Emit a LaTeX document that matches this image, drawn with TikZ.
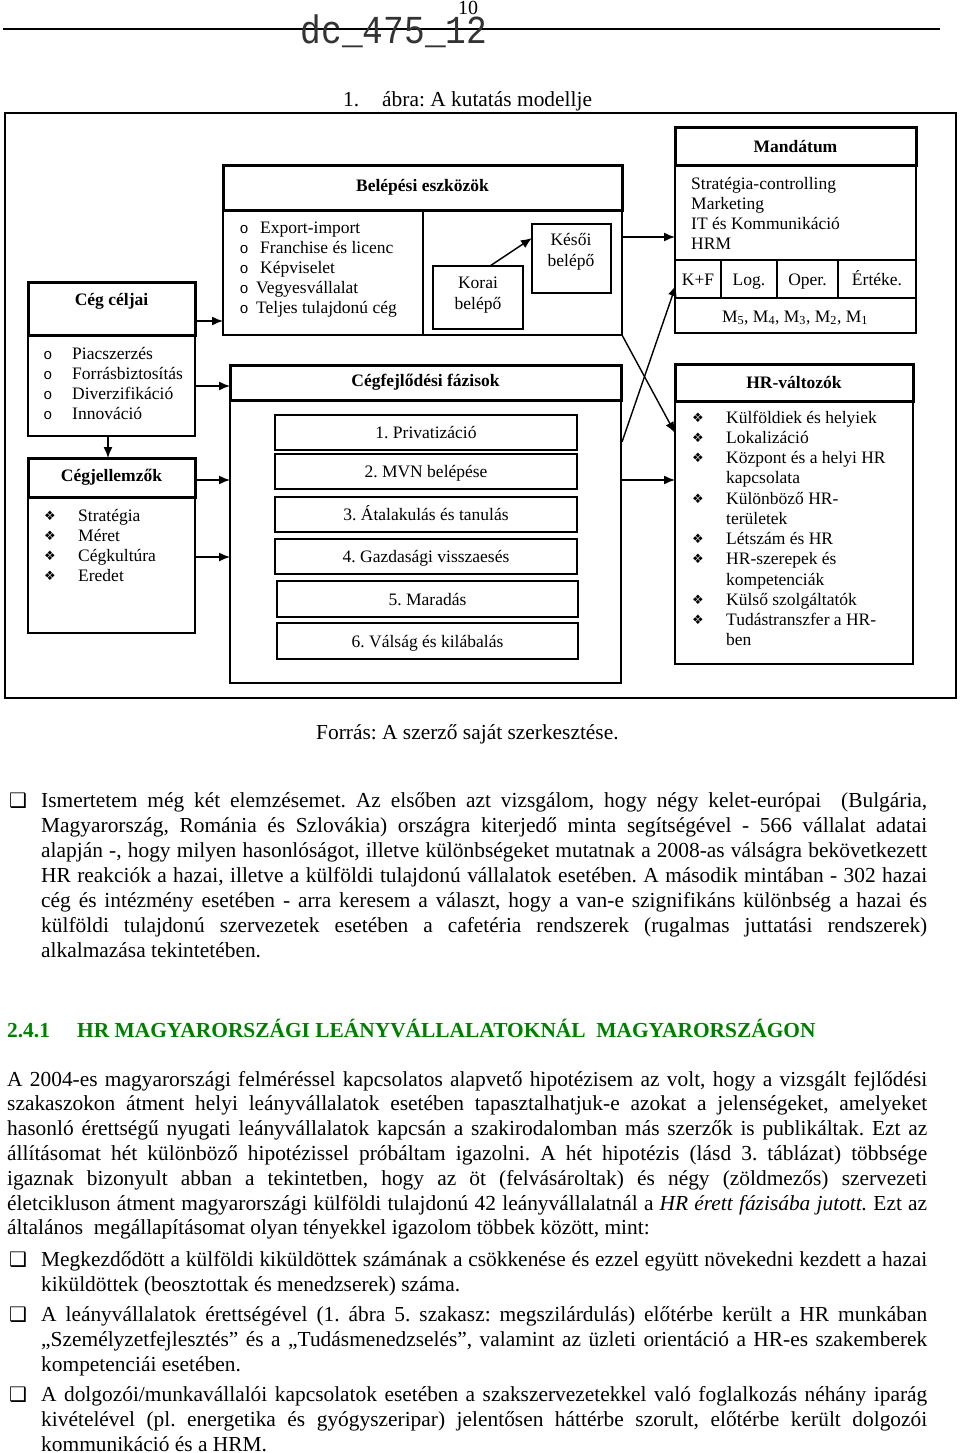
\documentclass[tikz,border=0pt]{standalone}
\usepackage{fontspec}
\setmainfont{Liberation Serif}
\newfontfamily\monof{Liberation Mono}
\newfontfamily\symf{DejaVu Sans}
\usetikzlibrary{fit,arrows.meta}
\definecolor{hgreen}{RGB}{0,128,0}
\newcommand{\jl}[2]{\makebox[#1][s]{#2}}
\frenchspacing
\tikzset{
  thinbx/.style={draw, line width=1.4pt, inner sep=0pt, outer sep=0pt},
  thickbx/.style={draw, line width=3pt, inner sep=0pt, outer sep=0pt},
  dtxt/.style={inner sep=0pt, font=\fontsize{17.5}{21}\selectfont},
  dbold/.style={inner sep=0pt, font=\fontsize{17.5}{21}\selectfont\bfseries},
  obul/.style={inner sep=0pt, anchor=base, font=\monof\fontsize{15}{15}\selectfont},
  dbul/.style={inner sep=0pt, anchor=base, font=\symf\fontsize{13}{13}\selectfont},
  qbul/.style={inner sep=0pt, anchor=base, font=\symf\fontsize{20}{20}\selectfont},
  arr/.style={-{Latex[length=11pt,width=9pt]}, line width=1.4pt},
  bodyt/.style={inner sep=0pt, anchor=base west, font=\fontsize{21.4}{25}\selectfont},
}
\begin{document}
\begin{tikzpicture}[x=1pt,y=-1pt]
\useasboundingbox (0,0) rectangle (960,1453);
\fill[white] (0,0) rectangle (960,1453);

% page header
\coordinate (hl1) at (3,29);
\coordinate (hl2) at (940,29);
\draw[line width=1.3pt] (hl1) -- (hl2);
\node[inner sep=0pt, anchor=base, font=\fontsize{20}{20}\selectfont] (pgnum) at (468,15) {10};
\node[inner sep=0pt, anchor=base, text=black!80, font=\monof\fontsize{34.5}{34.5}\selectfont] (dcid) at (394,44) {\scalebox{1}[1.15]{dc\_475\_12}};

% caption
\node[bodyt] (capn) at (343,107) {1.};
\node[bodyt] (capt) at (382,107) {ábra: A kutatás modellje};

% outer frame
\node[thinbx, fit={(5,113) (956,698)}] (frame) {};

% Belepesi eszkozok
\node[thinbx, fit={(223,210) (622,335)}] (belb) {};
\node[thickbx, fit={(223,165) (622,210)}] (belh) {};
\node[dbold] (belht) at (belh.center) {Belépési eszközök};
\coordinate (bdiv1) at (423,210);
\coordinate (bdiv2) at (423,335);
\draw[line width=1.4pt] (bdiv1) -- (bdiv2);
\foreach \t/\xx [count=\i] in {Export-import/260, Franchise és licenc/260, Képviselet/260, Vegyesvállalat/256, Teljes tulajdonú cég/256} {
  \node[dtxt, anchor=base west] (bell\i) at (\xx, {233+20*(\i-1)}) {\t};
  \node[obul] (belo\i) at (244, {233+20*(\i-1)}) {o};
}
\node[thinbx, fit={(433,266) (523,329)}] (korai) {};
\node[dtxt, align=center] (koraitx) at (478,295) {Korai\\belépő};
\node[thinbx, fit={(532,224) (611,293)}] (kesoi) {};
\node[dtxt, align=center] (kesoitx) at (571,252) {Késői\\belépő};

% Mandatum
\node[thinbx, fit={(675,165) (916,333)}] (manb) {};
\node[thickbx, fit={(675,128) (916,165)}] (manh) {};
\node[dbold] (manht) at (manh.center) {Mandátum};
\foreach \t [count=\i] in {Stratégia-controlling, Marketing, IT és Kommunikáció, HRM} {
  \node[dtxt, anchor=base west] (manl\i) at (691, {189+20*(\i-1)}) {\t};
}
\node[thinbx, fit={(675,260) (721,298)}] (mkf) {};
\node[thinbx, fit={(721,260) (777,298)}] (mlog) {};
\node[thinbx, fit={(777,260) (838,298)}] (moper) {};
\node[thinbx, fit={(838,260) (916,298)}] (mert) {};
\node[dtxt, anchor=base] (mkft) at ([yshift=-6pt]mkf.center) {K+F};
\node[dtxt, anchor=base] (mlogt) at ([yshift=-6pt]mlog.center) {Log.};
\node[dtxt, anchor=base] (mopert) at ([yshift=-6pt]moper.center) {Oper.};
\node[dtxt, anchor=base] (mertt) at ([yshift=-6pt]mert.center) {Értéke.};
\node[dtxt, anchor=base] (mrow) at (795,322) {M\textsubscript{5}, M\textsubscript{4}, M\textsubscript{3}, M\textsubscript{2}, M\textsubscript{1}};

% Ceg celjai
\node[thinbx, fit={(28,335) (195,436)}] (celb) {};
\node[thickbx, fit={(28,282) (195,335)}] (celh) {};
\node[dbold] (celtx) at (111.5,301) {Cég céljai};
\foreach \t [count=\i] in {Piacszerzés, Forrásbiztosítás, Diverzifikáció, Innováció} {
  \node[dtxt, anchor=base west] (cell\i) at (72, {359+20.3*(\i-1)}) {\t};
  \node[obul] (celo\i) at (48, {359+20.3*(\i-1)}) {o};
}

% Cegjellemzok
\node[thinbx, fit={(28,497) (195,633)}] (jelb) {};
\node[thickbx, fit={(28,458) (195,497)}] (jelh) {};
\node[dbold] (jelht) at (jelh.center) {Cégjellemzők};
\foreach \t [count=\i] in {Stratégia, Méret, Cégkultúra, Eredet} {
  \node[dtxt, anchor=base west] (jell\i) at (78, {521+20.3*(\i-1)}) {\t};
  \node[dbul] (jelo\i) at (50, {520+20.3*(\i-1)}) {❖};
}

% Cegfejlodesi fazisok
\node[thinbx, fit={(230,400) (621,683)}] (fazb) {};
\node[thickbx, fit={(230,365) (621,400)}] (fazh) {};
\node[dbold] (fazht) at (fazh.center) {Cégfejlődési fázisok};
\node[thinbx, fit={(275,415) (577,450)}] (f1) {};
\node[thinbx, fit={(275,454) (577,489)}] (f2) {};
\node[thinbx, fit={(275,497) (577,532)}] (f3) {};
\node[thinbx, fit={(275,539) (577,574)}] (f4) {};
\node[thinbx, fit={(277,581) (578,617)}] (f5) {};
\node[thinbx, fit={(277,623) (578,659)}] (f6) {};
\node[dtxt, anchor=base] (f1t) at ([yshift=-6pt]f1.center) {1. Privatizáció};
\node[dtxt, anchor=base] (f2t) at ([yshift=-6pt]f2.center) {2. MVN belépése};
\node[dtxt, anchor=base] (f3t) at ([yshift=-6pt]f3.center) {3. Átalakulás és tanulás};
\node[dtxt, anchor=base] (f4t) at ([yshift=-6pt]f4.center) {4. Gazdasági visszaesés};
\node[dtxt, anchor=base] (f5t) at ([yshift=-6pt]f5.center) {5. Maradás};
\node[dtxt, anchor=base] (f6t) at ([yshift=-6pt]f6.center) {6. Válság és kilábalás};

% HR-valtozok
\node[thinbx, fit={(675,401) (913,664)}] (hrb) {};
\node[thickbx, fit={(675,364) (913,401)}] (hrh) {};
\node[dbold] (hrht) at (hrh.center) {HR-változók};
\foreach \t/\b [count=\i] in {Külföldiek és helyiek/1, Lokalizáció/1, Központ és a helyi HR/1, kapcsolata/0, Különböző HR-/1, területek/0, Létszám és HR/1, HR-szerepek és/1, kompetenciák/0, Külső szolgáltatók/1, Tudástranszfer a HR-/1, ben/0} {
  \node[dtxt, anchor=base west] (hrl\i) at (726, {423+20.25*(\i-1)}) {\t};
  \ifnum\b=1
    \node[dbul] (hro\i) at (698, {422+20.25*(\i-1)}) {❖};
  \fi
}

% connectors
\coordinate (a1s) at (195,321); \coordinate (a1e) at (223,321);
\draw[arr] (a1s) -- (a1e);
\coordinate (a2s) at (622,237); \coordinate (a2e) at (675,237);
\draw[arr] (a2s) -- (a2e);
\coordinate (a3s) at (490,266); \coordinate (a3e) at (532,238);
\draw[arr] (a3s) -- (a3e);
\coordinate (a4s) at (108,436); \coordinate (a4e) at (108,458);
\draw[arr] (a4s) -- (a4e);
\coordinate (a5s) at (195,386); \coordinate (a5e) at (230,386);
\draw[arr] (a5s) -- (a5e);
\coordinate (a6s) at (195,480); \coordinate (a6e) at (230,480);
\draw[arr] (a6s) -- (a6e);
\coordinate (a7s) at (195,557); \coordinate (a7e) at (230,557);
\draw[arr] (a7s) -- (a7e);
\coordinate (a8s) at (622,335); \coordinate (a8e) at (675,433);
\draw[arr] (a8s) -- (a8e);
\coordinate (a9s) at (622,442); \coordinate (a9e) at (676,285);
\draw[arr] (a9s) -- (a9e);
\coordinate (a10s) at (621,480); \coordinate (a10e) at (675,480);
\draw[arr] (a10s) -- (a10e);

% source
\node[bodyt] (forras) at (316,739) {Forrás: A szerző saját szerkesztése.};

% paragraph 1
\node[qbul] (q1) at (18,807) {❑};
\node[bodyt] (p1a) at (41,807) {\jl{886pt}{Ismertetem még két elemzésemet. Az elsőben azt vizsgálom, hogy négy kelet-európai\ \ (Bulgária,}};
\node[bodyt] (p1b) at (41,832) {\jl{886pt}{Magyarország, Románia és Szlovákia) országra kiterjedő minta segítségével - 566 vállalat adatai}};
\node[bodyt] (p1c) at (41,857) {\jl{886pt}{alapján -, hogy milyen hasonlóságot, illetve különbségeket mutatnak a 2008-as válságra bekövetkezett}};
\node[bodyt] (p1d) at (41,882) {\jl{886pt}{HR reakciók a hazai, illetve a külföldi tulajdonú vállalatok esetében. A második mintában - 302 hazai}};
\node[bodyt] (p1e) at (41,907) {\jl{886pt}{cég és intézmény esetében - arra keresem a választ, hogy a van-e szignifikáns különbség a hazai és}};
\node[bodyt] (p1f) at (41,932) {\jl{886pt}{külföldi tulajdonú szervezetek esetében a cafetéria rendszerek (rugalmas juttatási rendszerek)}};
\node[bodyt] (p1g) at (41,957) {alkalmazása tekintetében.};

% heading
\node[bodyt, text=hgreen, font=\fontsize{21.4}{25}\selectfont\bfseries] (hnum) at (7,1037) {2.4.1};
\node[bodyt, text=hgreen, font=\fontsize{21.4}{25}\selectfont\bfseries] (htxt) at (77,1037) {HR MAGYARORSZÁGI LEÁNYVÁLLALATOKNÁL\ \ MAGYARORSZÁGON};

% paragraph 2
\node[bodyt] (p2a) at (7,1086) {\jl{920pt}{A 2004-es magyarországi felméréssel kapcsolatos alapvető hipotézisem az volt, hogy a vizsgált fejlődési}};
\node[bodyt] (p2b) at (7,1110.8) {\jl{920pt}{szakaszokon átment helyi leányvállalatok esetében tapasztalhatjuk-e azokat a jelenségeket, amelyeket}};
\node[bodyt] (p2c) at (7,1135.6) {\jl{920pt}{hasonló érettségű nyugati leányvállalatok kapcsán a szakirodalomban más szerzők is publikáltak. Ezt az}};
\node[bodyt] (p2d) at (7,1160.4) {\jl{920pt}{állításomat hét különböző hipotézissel próbáltam igazolni. A hét hipotézis (lásd 3. táblázat) többsége}};
\node[bodyt] (p2e) at (7,1185.2) {\jl{920pt}{igaznak bizonyult abban a tekintetben, hogy az öt (felvásároltak) és négy (zöldmezős) szervezeti}};
\node[bodyt] (p2f) at (7,1210) {\jl{920pt}{életcikluson átment magyarországi külföldi tulajdonú 42 leányvállalatnál a \textit{HR érett fázisába jutott.} Ezt az}};
\node[bodyt] (p2g) at (7,1234.8) {általános\ \ megállapításomat olyan tényekkel igazolom többek között, mint:};

% bullet list
\node[qbul] (q2) at (18,1266) {❑};
\node[bodyt] (b1a) at (41,1266) {\jl{886pt}{Megkezdődött a külföldi kiküldöttek számának a csökkenése és ezzel együtt növekedni kezdett a hazai}};
\node[bodyt] (b1b) at (41,1291) {kiküldöttek (beosztottak és menedzserek) száma.};
\node[qbul] (q3) at (18,1321) {❑};
\node[bodyt] (b2a) at (41,1321) {\jl{886pt}{A leányvállalatok érettségével (1. ábra 5. szakasz: megszilárdulás) előtérbe került a HR munkában}};
\node[bodyt] (b2b) at (41,1346) {\jl{886pt}{„Személyzetfejlesztés” és a „Tudásmenedzselés”, valamint az üzleti orientáció a HR-es szakemberek}};
\node[bodyt] (b2c) at (41,1371) {kompetenciái esetében.};
\node[qbul] (q4) at (18,1401) {❑};
\node[bodyt] (b3a) at (41,1401) {\jl{886pt}{A dolgozói/munkavállalói kapcsolatok esetében a szakszervezetekkel való foglalkozás néhány iparág}};
\node[bodyt] (b3b) at (41,1426) {\jl{886pt}{kivételével (pl. energetika és gyógyszeripar) jelentősen háttérbe szorult, előtérbe került dolgozói}};
\node[bodyt] (b3c) at (41,1451) {kommunikáció és a HRM.};
\end{tikzpicture}
\end{document}
